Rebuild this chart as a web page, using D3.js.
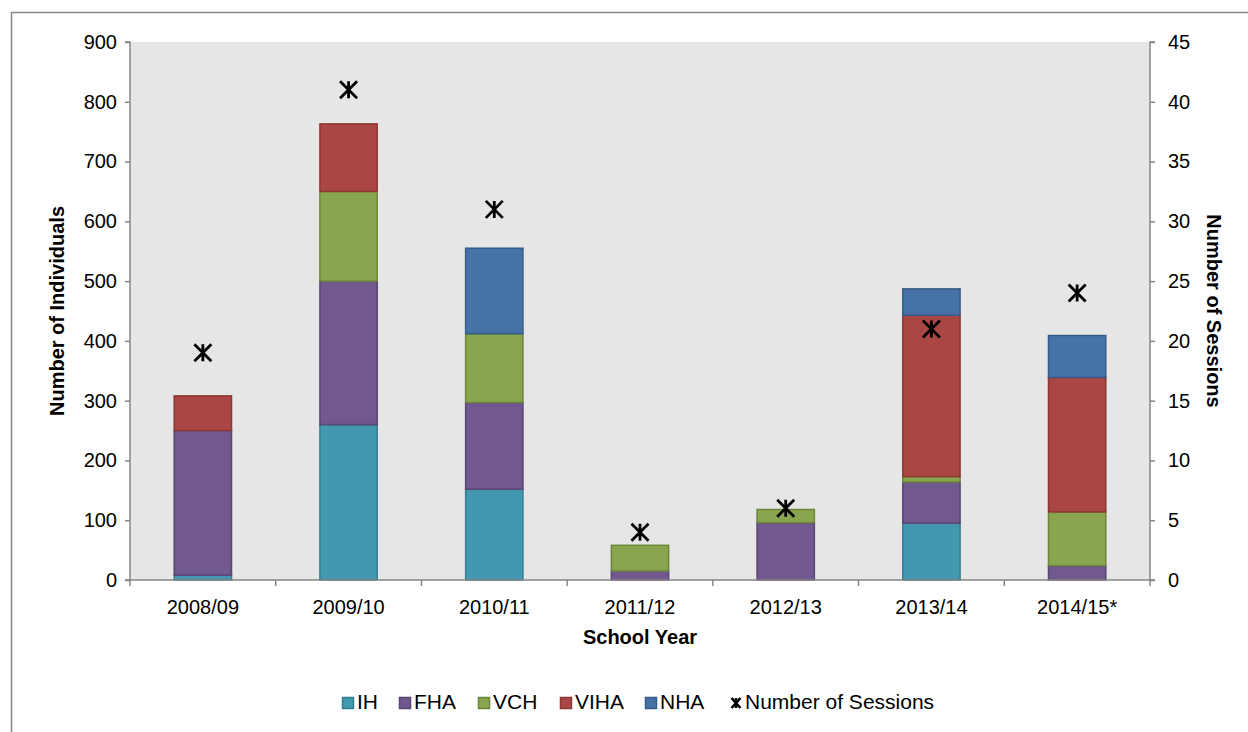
<!DOCTYPE html>
<html>
<head>
<meta charset="utf-8">
<script src="https://cdn.jsdelivr.net/npm/d3@7"></script>
<style>
  body { margin: 0; background: #fff; }
  svg { display: block; font-family: Arial, "Liberation Sans", sans-serif; }
</style>
</head>
<body>
<svg id="chart" width="1248" height="732"></svg>
<script>
const years = ['2008/09', '2009/10', '2010/11', '2011/12', '2012/13', '2013/14', '2014/15*']
const seriesNames = ['IH', 'FHA', 'VCH', 'VIHA', 'NHA']
const IH = [8, 260, 152, 0, 0, 95, 0]
const FHA = [242, 240, 145, 15, 96, 69, 24]
const VCH = [0, 150, 115, 43, 22, 9, 90]
const VIHA = [58, 113, 0, 0, 0, 270, 225]
const NHA = [0, 0, 143, 0, 0, 44, 70]
const sessions = [19, 41, 31, 4, 6, 21, 24]
const leftTicks = [0, 100, 200, 300, 400, 500, 600, 700, 800, 900]
const rightTicks = [0, 5, 10, 15, 20, 25, 30, 35, 40, 45]

const fills = ['#4198AF', '#71588F', '#89A54E', '#AA4643', '#4572A7']
const strokes = ['#357D90', '#5A4573', '#6E853D', '#8B3835', '#375C88']

const svg = d3.select('#chart')
const m = { left: 130, right: 1150, top: 42, bottom: 580 }
const fs = 20

// outer frame (cut by the window at right and bottom)
svg.append('rect')
  .attr('x', 11.5).attr('y', 12.5).attr('width', 1300).attr('height', 800)
  .attr('fill', 'none').attr('stroke', '#888').attr('stroke-width', 1.5)

svg.append('rect')
  .attr('x', m.left).attr('y', m.top)
  .attr('width', m.right - m.left).attr('height', m.bottom - m.top)
  .attr('fill', '#E6E6E6')

const x = d3.scaleBand().domain(years).range([m.left, m.right]).paddingInner(0.6).paddingOuter(0.3)
const xs = d3.scaleBand().domain(years).range([m.left, m.right])
const y = d3.scaleLinear().domain([0, 900]).range([m.bottom, m.top])
const y2 = d3.scaleLinear().domain([0, 45]).range([m.bottom, m.top])

const table = years.map((yr, i) => ({ year: yr, IH: IH[i], FHA: FHA[i], VCH: VCH[i], VIHA: VIHA[i], NHA: NHA[i] }))
const stack = d3.stack().keys(seriesNames)(table)

stack.forEach((layer, k) => {
  svg.append('g').selectAll('rect')
    .data(layer.filter(d => d[1] - d[0] > 0))
    .join('rect')
    .attr('x', d => x(d.data.year) + 0.5)
    .attr('width', x.bandwidth() - 1)
    .attr('y', d => y(d[1]))
    .attr('height', d => y(d[0]) - y(d[1]))
    .attr('fill', fills[k])
    .attr('stroke', strokes[k])
    .attr('stroke-width', 1.5)
})

// axes
const axisColor = '#868686'
const gl = svg.append('g').attr('transform', `translate(${m.left},0)`)
  .call(d3.axisLeft(y).tickValues(leftTicks).tickSize(5).tickPadding(8))
const gr = svg.append('g').attr('transform', `translate(${m.right},0)`)
  .call(d3.axisRight(y2).tickValues(rightTicks).tickSize(5).tickPadding(13))
const gb = svg.append('g').attr('transform', `translate(0,${m.bottom})`)
  .call(d3.axisBottom(xs).tickSize(0).tickPadding(20))
// tick marks between categories
gb.selectAll('.sep')
  .data(d3.range(years.length + 1))
  .join('line')
  .attr('class', 'sep')
  .attr('x1', i => m.left + i * xs.step()).attr('x2', i => m.left + i * xs.step())
  .attr('y1', 0).attr('y2', 6)
  .attr('stroke', axisColor).attr('stroke-width', 1.5)

;[gl, gr, gb].forEach(g => {
  g.select('.domain').attr('stroke', axisColor).attr('stroke-width', 1.5)
  g.selectAll('.tick line').attr('stroke', axisColor).attr('stroke-width', 1.5)
  g.selectAll('.tick text').attr('fill', '#000').attr('font-size', fs)
    .attr('font-family', 'Arial, "Liberation Sans", sans-serif')
})
gl.select('.domain').attr('d', `M-5,${m.top}H0V${m.bottom}H-5`)
gr.select('.domain').attr('d', `M5,${m.top}H0V${m.bottom}H5`)
gb.select('.domain').attr('d', `M${m.left},0H${m.right}`)

// session markers
const star = (w, h) => `M${-w},${-h}L${w},${h}M${-w},${h}L${w},${-h}M0,${-h}L0,${h}`
svg.append('g').selectAll('path')
  .data(sessions)
  .join('path')
  .attr('transform', (d, i) => `translate(${xs(years[i]) + xs.bandwidth() / 2},${y2(d)})`)
  .attr('d', star(8.5, 8.5))
  .attr('stroke', '#000').attr('stroke-width', 2.8).attr('fill', 'none')

// axis titles
svg.append('text')
  .attr('transform', `translate(64,${(m.top + m.bottom) / 2}) rotate(-90)`)
  .attr('text-anchor', 'middle').attr('font-size', fs).attr('font-weight', 'bold')
  .text('Number of Individuals')
svg.append('text')
  .attr('transform', `translate(1207,${(m.top + m.bottom) / 2}) rotate(90)`)
  .attr('text-anchor', 'middle').attr('font-size', fs).attr('font-weight', 'bold')
  .text('Number of Sessions')
svg.append('text')
  .attr('x', (m.left + m.right) / 2).attr('y', 644)
  .attr('text-anchor', 'middle').attr('font-size', fs).attr('font-weight', 'bold')
  .text('School Year')

// legend
const legendItems = seriesNames.concat(['Number of Sessions'])
const legendX = [342, 399, 478, 560, 645, 730]
const lg = svg.append('g')
legendItems.forEach((name, i) => {
  const g = lg.append('g').attr('transform', `translate(${legendX[i]},703)`)
  if (i < 5) {
    g.append('rect').attr('x', 0.5).attr('y', -5.5).attr('width', 11).attr('height', 11)
      .attr('fill', fills[i]).attr('stroke', strokes[i]).attr('stroke-width', 1.5)
  } else {
    g.append('path').attr('transform', 'translate(6,0)').attr('d', star(4.5, 5))
      .attr('stroke', '#000').attr('stroke-width', 2.6).attr('fill', 'none')
  }
  g.append('text').attr('x', 15).attr('y', 6).attr('font-size', 21).text(name)
})
</script>
</body>
</html>
